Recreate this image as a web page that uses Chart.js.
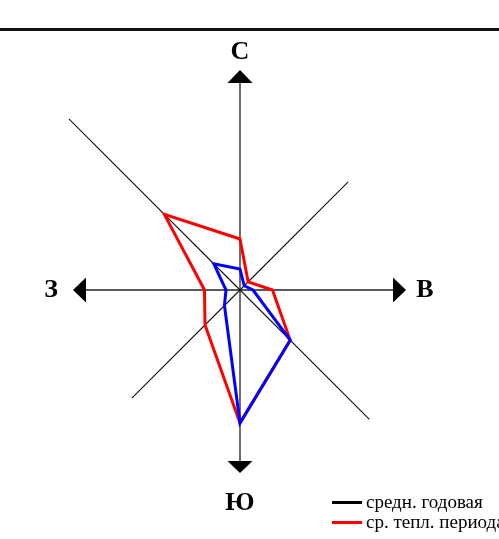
<!DOCTYPE html>
<html>
<head>
<meta charset="utf-8">
<script src="https://cdn.jsdelivr.net/npm/chart.js@4"></script>
<style>
  html, body { margin:0; padding:0; background:#fff; width:499px; height:539px; overflow:hidden; position:relative; }
  #topline { position:absolute; left:0; top:28px; width:499px; height:3px; background:#111; }
  #wrap { position:absolute; left:0; top:40px; width:480px; height:500px; }
  #legend { position:absolute; left:332px; top:492px; font-family:"Liberation Serif","Times New Roman",serif; font-size:19px; color:#000; white-space:nowrap; }
  .row { height:20px; line-height:20px; display:flex; align-items:center; }
  .sw { display:inline-block; width:30px; height:3px; margin-right:4px; }
</style>
</head>
<body>
<div id="topline"></div>
<div id="wrap"><canvas id="c"></canvas></div>
<div id="legend"></div>
<script>
// Directions, clockwise from north
const directions = ['С', 'СВ', 'В', 'ЮВ', 'Ю', 'ЮЗ', 'З', 'СЗ'];
// Series values (relative units)
const warmPeriod = [10.2, 2.3, 6.5, 14.2, 26.6, 9.9, 7.1, 21.4];   // red
const thirdSeries = [4.2, 1.2, 2.6, 14.2, 26.6, 4.4, 2.8, 7.4];    // blue
// Axis extents in the same units
const axisLength = [41.4, 30.6, 30.6, 36.6, 34.2, 30.6, 30.8, 48.4];
const arrowTip = [44, null, 33.2, null, 36.6, null, 33.4, null];
const labelDist = [47.6, null, 37, null, 42.6, null, 37.8, null];
const axisLabels = ['С', '', 'В', '', 'Ю', '', 'З', ''];
const legendLabels = ['средн. годовая', 'ср. тепл. периода'];
const legendColors = ['#000000', '#ff0000'];
const scaleMax = 48;

document.getElementById('legend').innerHTML = legendLabels.map((t, i) =>
  `<div class="row"><span class="sw" style="background:${legendColors[i]}"></span><span>${t}</span></div>`).join('');

const axesPlugin = {
  id: 'roseAxes',
  beforeDatasetsDraw(chart) {
    const s = chart.scales.r;
    const ctx = chart.ctx;
    const c = s.getPointPositionForValue(0, 0);
    ctx.save();
    for (let i = 0; i < directions.length; i++) {
      const p = s.getPointPositionForValue(i, axisLength[i]);
      ctx.beginPath();
      ctx.moveTo(c.x, c.y);
      ctx.lineTo(p.x, p.y);
      if (i % 2 === 0) { ctx.strokeStyle = '#222'; ctx.lineWidth = 1.3; }
      else { ctx.strokeStyle = '#111'; ctx.lineWidth = 1.1; }
      ctx.stroke();
      if (arrowTip[i] !== null) {
        const t = s.getPointPositionForValue(i, arrowTip[i]);
        const dx = t.x - p.x, dy = t.y - p.y;
        const len = Math.hypot(dx, dy);
        const nx = -dy / len, ny = dx / len;
        const hw = 12.5;
        ctx.beginPath();
        ctx.moveTo(t.x, t.y);
        ctx.lineTo(p.x + nx * hw, p.y + ny * hw);
        ctx.lineTo(p.x - nx * hw, p.y - ny * hw);
        ctx.closePath();
        ctx.fillStyle = '#000';
        ctx.fill();
        const l = s.getPointPositionForValue(i, labelDist[i]);
        ctx.font = 'bold 26px "Liberation Serif", "Times New Roman", serif';
        ctx.textAlign = 'center';
        ctx.textBaseline = 'middle';
        ctx.fillText(axisLabels[i], l.x, l.y);
      }
    }
    ctx.restore();
  }
};

new Chart(document.getElementById('c'), {
  type: 'radar',
  data: {
    labels: directions,
    datasets: [
      { label: 'ср. тепл. периода', data: warmPeriod, order: 2, borderColor: '#ff0000', borderWidth: 3, fill: false, pointRadius: 0, tension: 0, borderJoinStyle: 'miter' },
      { label: 'третья серия', data: thirdSeries, order: 1, borderColor: '#0000ff', borderWidth: 3, fill: false, pointRadius: 0, tension: 0, borderJoinStyle: 'miter' }
    ]
  },
  options: {
    responsive: true,
    maintainAspectRatio: false,
    animation: false,
    plugins: { legend: { display: false }, tooltip: { enabled: false } },
    layout: { padding: 0 },
    scales: {
      r: {
        min: 0, max: scaleMax,
        grid: { display: false },
        angleLines: { display: false },
        ticks: { display: false },
        pointLabels: { display: false }
      }
    }
  },
  plugins: [axesPlugin]
});
</script>
</body>
</html>
